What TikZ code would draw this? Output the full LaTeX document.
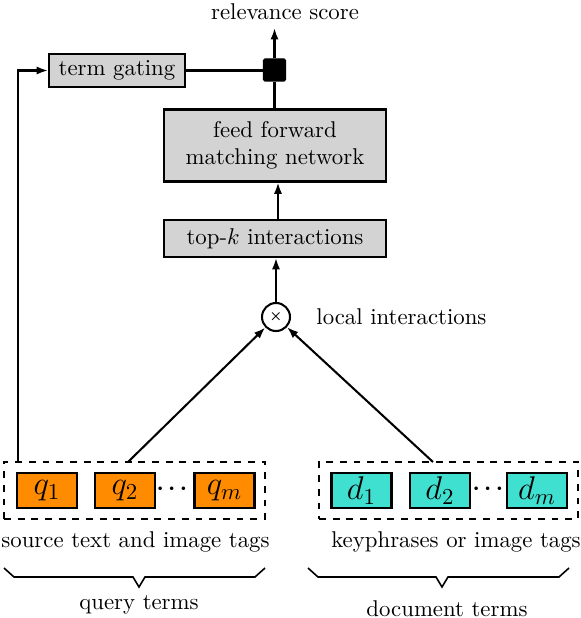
\documentclass[tikz,border=0pt]{standalone}
\usepackage{amsmath}
\usetikzlibrary{arrows.meta}
\def\pxu{0.4386pt}
\definecolor{boxgray}{HTML}{D3D3D3}
\definecolor{qorange}{HTML}{FF8C00}
\definecolor{dturq}{HTML}{40E0D0}
\tikzset{
  gbox/.style={draw, line width=0.9pt, fill=boxgray, inner sep=0pt, align=center},
  termbox/.style={draw, line width=0.9pt, inner sep=0pt, minimum width=60*\pxu, minimum height=35*\pxu, font=\Large},
  dbox/.style={draw, dashed, line width=0.6pt, inner sep=0pt, minimum width=261*\pxu, minimum height=57*\pxu},
  arr/.style={line width=0.9pt, -{Latex[length=5pt, width=3.6pt]}},
  ln/.style={line width=0.9pt},
  brc/.style={line width=0.7pt, line join=miter},
}
\begin{document}
\begin{tikzpicture}[x=\pxu, y=-\pxu]
\useasboundingbox (0,0) rectangle (581,618);
% top part
\node (rel) at (285,12) {relevance score};
\node[draw, fill=black, line width=0.5pt, rounded corners=0.6pt, minimum size=22*\pxu, inner sep=0pt] (sq) at (274.5,70) {};
\node[gbox, minimum width=136*\pxu, minimum height=33*\pxu] (tg) at (117,70.5) {term gating};
\node[gbox, minimum width=222*\pxu, minimum height=72*\pxu] (ff) at (275,145.5) {feed forward\\matching network};
\node[gbox, minimum width=222*\pxu, minimum height=37*\pxu] (tk) at (275,238.5) {top-$k$ interactions};
\node[circle, draw, line width=0.9pt, minimum size=28*\pxu, inner sep=0pt] (x) at (276,317) {\tiny$\boldsymbol{\times}$};
\node[anchor=west, inner sep=0pt] (li) at (316,317) {local interactions};
% term groups
\node[dbox] (qbox) at (134.5,490.5) {};
\node[dbox, minimum width=259*\pxu] (dbx) at (448.5,490.5) {};
\node[termbox, fill=qorange] (q1) at (47,490.5) {$q_1$};
\node[termbox, fill=qorange] (q2) at (125,490.5) {$q_2$};
\node[termbox, fill=qorange] (qm) at (224.5,490.5) {$q_m$};
\node (qdots) at (174,489) {$\boldsymbol{\cdots}$};
\node[termbox, fill=dturq] (d1) at (361.5,490.5) {$d_1$};
\node[termbox, fill=dturq] (d2) at (440,490.5) {$d_2$};
\node[termbox, fill=dturq] (dm) at (537,490.5) {$d_m$};
\node (ddots) at (490,489) {$\boldsymbol{\cdots}$};
\node (qlab) at (135.5,542) {source text and image tags};
\node (dlab) at (456,542) {keyphrases or image tags};
% braces
\draw[brc] (4,568) -- (14,577) -- (133,577) -- (139,587) -- (145,577) -- (255,577) -- (265,568);
\draw[brc] (308,568) -- (318,577) -- (436,577) -- (442,587) -- (448,577) -- (559,577) -- (569,568);
\node (qt) at (139,605) {query terms};
\node (dt) at (447,609) {document terms};
% connectors
\coordinate (qa) at (128,462);
\coordinate (da) at (433,462);
\coordinate (ql) at (18,462);
\draw[arr] (sq.north) -- (sq.north |- rel.south);
\draw[ln] (tg.east) -- (tg.east -| sq.west);
\draw[ln] (ff.north -| sq.south) -- (sq.south);
\draw[arr] (tk.north -| 278,0) -- (ff.south -| 278,0);
\draw[arr] (x.north) -- (tk.south -| x.north);
\draw[arr] (qa) -- (x);
\draw[arr] (da) -- (x);
\draw[arr] (ql) |- (tg.west);
\end{tikzpicture}
\end{document}
